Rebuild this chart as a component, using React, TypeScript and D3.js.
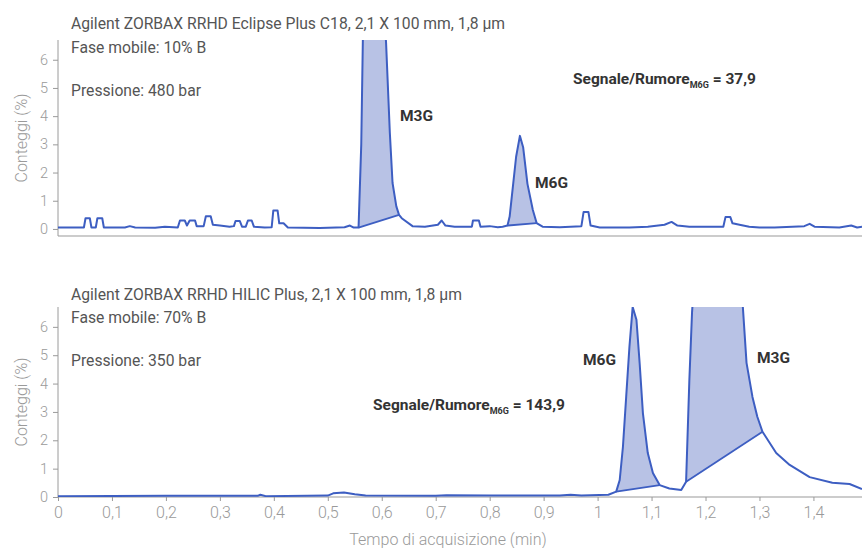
import { useEffect, useRef } from 'react';
import * as d3 from 'd3';

// Chromatogram traces: [time (min), counts (%)]
const topTrace: [number, number][] = [
  [0, 0.05], [0.031, 0.05], [0.048, 0.05], [0.051, 0.38], [0.059, 0.38], [0.062, 0.05],
  [0.07, 0.05], [0.073, 0.38], [0.082, 0.38], [0.085, 0.05], [0.124, 0.05], [0.133, 0.1],
  [0.143, 0.05], [0.18, 0.04], [0.198, 0.08], [0.222, 0.05], [0.226, 0.3], [0.235, 0.3],
  [0.239, 0.12], [0.244, 0.3], [0.254, 0.3], [0.257, 0.1], [0.27, 0.1], [0.274, 0.45],
  [0.283, 0.45], [0.287, 0.15], [0.3, 0.12], [0.318, 0.08], [0.326, 0.1], [0.329, 0.28],
  [0.337, 0.28], [0.341, 0.08], [0.348, 0.08], [0.352, 0.3], [0.359, 0.3], [0.363, 0.08],
  [0.383, 0.05], [0.396, 0.06], [0.399, 0.65], [0.407, 0.65], [0.41, 0.2], [0.418, 0.2],
  [0.426, 0.05], [0.485, 0.03], [0.531, 0.06], [0.541, 0.12], [0.548, 0.05], [0.557, 0.05],
  [0.562, 3], [0.566, 8], [0.58, 11], [0.6, 9], [0.608, 6.6], [0.615, 3.4], [0.62, 1.63],
  [0.627, 0.8], [0.632, 0.5], [0.637, 0.38], [0.657, 0.1], [0.68, 0.08], [0.704, 0.15],
  [0.711, 0.3], [0.718, 0.12], [0.735, 0.08], [0.767, 0.08], [0.769, 0.3], [0.78, 0.3],
  [0.783, 0.08], [0.8, 0.1], [0.815, 0.06], [0.824, 0.08], [0.833, 0.12], [0.837, 0.44],
  [0.843, 1.5], [0.849, 2.56], [0.856, 3.3], [0.862, 2.9], [0.87, 1.6], [0.88, 0.67],
  [0.887, 0.21], [0.898, 0.08], [0.93, 0.06], [0.97, 0.1], [0.974, 0.6], [0.983, 0.6],
  [0.987, 0.12], [1.004, 0.05], [1.059, 0.05], [1.093, 0.08], [1.124, 0.15], [1.137, 0.25],
  [1.148, 0.12], [1.17, 0.08], [1.233, 0.08], [1.237, 0.42], [1.246, 0.42], [1.25, 0.2],
  [1.263, 0.15], [1.281, 0.08], [1.3, 0.05], [1.328, 0.05], [1.383, 0.1], [1.393, 0.18],
  [1.402, 0.08], [1.448, 0.05], [1.47, 0.12], [1.481, 0.05], [1.49, 0.08],
];

const bottomTrace: [number, number][] = [
  [0, 0.03], [0.2, 0.04], [0.37, 0.04], [0.375, 0.08], [0.385, 0.03], [0.5, 0.05],
  [0.51, 0.13], [0.53, 0.16], [0.55, 0.1], [0.57, 0.05], [0.7, 0.04], [0.72, 0.06],
  [0.8, 0.05], [0.93, 0.05], [0.95, 0.08], [0.97, 0.05], [1.02, 0.08], [1.0345, 0.19],
  [1.041, 0.6], [1.047, 1.78], [1.053, 3.54], [1.059, 5.3], [1.065, 6.7], [1.072, 6.25],
  [1.078, 4.7], [1.084, 2.95], [1.093, 1.55], [1.1025, 0.85], [1.115, 0.42], [1.133, 0.3],
  [1.155, 0.25], [1.164, 0.54], [1.17, 4.1], [1.175, 6.5], [1.18, 8], [1.2, 11],
  [1.23, 12], [1.255, 9.5], [1.2685, 6.9], [1.276, 4.73], [1.287, 3.53], [1.296, 2.83],
  [1.3056, 2.3], [1.331, 1.55], [1.356, 1.13], [1.393, 0.7], [1.435, 0.5], [1.467, 0.46],
  [1.49, 0.28],
];

// Integration windows [start, end] (min)
const topPeaks: [number, number][] = [[0.557, 0.632], [0.833, 0.887]];
const bottomPeaks: [number, number][] = [[1.0345, 1.115], [1.164, 1.3056]];

const xTicks = [0, 0.1, 0.2, 0.3, 0.4, 0.5, 0.6, 0.7, 0.8, 0.9, 1, 1.1, 1.2, 1.3, 1.4];
const yTicks = [0, 1, 2, 3, 4, 5, 6];

const topTexts = ['Agilent ZORBAX RRHD Eclipse Plus C18, 2,1 X 100 mm, 1,8 µm', 'Fase mobile: 10% B', 'Pressione: 480 bar'];
const bottomTexts = ['Agilent ZORBAX RRHD HILIC Plus, 2,1 X 100 mm, 1,8 µm', 'Fase mobile: 70% B', 'Pressione: 350 bar'];

const LINE = '#3d5ec2';
const FILL = '#b8c2e5';
const AXIS = '#9a9a9a';
const FONT = 'Roboto, sans-serif';

export default function App() {
  const svgRef = useRef<SVGSVGElement>(null);

  useEffect(() => {
    if (!svgRef.current) return;
    const svg = d3.select(svgRef.current);
    svg.selectAll('*').remove();

    const x = d3.scaleLinear().domain([0, 1.49]).range([58, 862]);

    const drawPanel = (
      id: string,
      trace: [number, number][],
      peaks: [number, number][],
      y: d3.ScaleLinear<number, number>,
      texts: string[],
      textY: number[],
      showXLabels: boolean,
    ) => {
      const [yBottom, yTop] = y.range();
      const g = svg.append('g');

      g.append('clipPath').attr('id', id)
        .append('rect').attr('x', 58).attr('y', yTop).attr('width', 804).attr('height', yBottom - yTop);

      // Y axis
      const yAxis = g.append('g')
        .attr('transform', 'translate(58,0)')
        .call(d3.axisLeft(y).tickValues(yTicks).tickSize(5).tickPadding(5).tickFormat(d3.format('d')));
      yAxis.select('.domain').attr('stroke', AXIS).attr('d', `M0,${yTop}V${yBottom}`);
      yAxis.selectAll('.tick line').attr('stroke', AXIS);
      yAxis.selectAll('.tick text').attr('fill', AXIS).attr('font-size', 14.5).attr('font-family', FONT).attr('font-weight', 300);

      // X axis
      const xAxis = g.append('g')
        .attr('transform', `translate(0,${yBottom})`)
        .call(d3.axisBottom(x).tickValues(showXLabels ? xTicks : []).tickSize(showXLabels ? 4 : 0).tickPadding(6)
          .tickFormat((d) => String(+(+d).toFixed(1)).replace('.', ',')));
      xAxis.select('.domain').attr('stroke', AXIS).attr('stroke-width', 1.2).attr('d', `M58,0H862`);
      xAxis.selectAll('.tick line').attr('stroke', AXIS);
      xAxis.selectAll('.tick text').attr('fill', AXIS).attr('font-size', 16).attr('font-family', FONT).attr('font-weight', 300);

      const plot = g.append('g').attr('clip-path', `url(#${id})`);

      // Integrated peak areas
      peaks.forEach(([t0, t1]) => {
        const pts = trace.filter((d) => d[0] >= t0 && d[0] <= t1);
        const v0 = pts[0][1];
        const v1 = pts[pts.length - 1][1];
        const base = d3.scaleLinear().domain([t0, t1]).range([v0, v1]);
        const area = d3.area<[number, number]>()
          .x((d) => x(d[0]))
          .y0((d) => y(base(d[0])))
          .y1((d) => y(d[1]));
        plot.append('path').attr('d', area(pts)).attr('fill', FILL);
        plot.append('line')
          .attr('x1', x(t0)).attr('y1', y(v0)).attr('x2', x(t1)).attr('y2', y(v1))
          .attr('stroke', LINE).attr('stroke-width', 1.8);
      });

      const line = d3.line<[number, number]>().x((d) => x(d[0])).y((d) => y(d[1]));
      plot.append('path').attr('d', line(trace)).attr('fill', 'none')
        .attr('stroke', LINE).attr('stroke-width', 2).attr('stroke-linejoin', 'round');

      texts.forEach((t, i) => {
        g.append('text').attr('x', 71).attr('y', textY[i]).attr('font-size', 15.7)
          .attr('font-family', FONT).attr('fill', '#555').text(t);
      });

      g.append('text')
        .attr('transform', `translate(27,${(yTop + yBottom) / 2}) rotate(-90)`)
        .attr('text-anchor', 'middle').attr('font-size', 16).attr('font-family', FONT)
        .attr('font-weight', 300).attr('fill', AXIS).text('Conteggi (%)');
    };

    const yTop = d3.scaleLinear().domain([-0.25, 6.7]).range([236, 40]);
    const yBot = d3.scaleLinear().domain([0, 6.7]).range([497, 307]);

    drawPanel('clipTop', topTrace, topPeaks, yTop, topTexts, [29, 53, 96], false);
    drawPanel('clipBot', bottomTrace, bottomPeaks, yBot, bottomTexts, [300, 323, 366], true);

    const label = (tx: number, ty: number, txt: string, sub?: string, rest?: string) => {
      const t = svg.append('text').attr('x', tx).attr('y', ty).attr('font-size', 15.5)
        .attr('font-weight', 700).attr('font-family', FONT).attr('fill', '#333');
      t.append('tspan').text(txt);
      if (sub) {
        t.append('tspan').attr('font-size', 9).attr('dy', 4).text(sub);
        t.append('tspan').attr('dy', -4).text(rest || '');
      }
    };
    label(573, 84, 'Segnale/Rumore', 'M6G', ' = 37,9');
    label(400, 121, 'M3G');
    label(535, 188, 'M6G');
    label(373, 410, 'Segnale/Rumore', 'M6G', ' = 143,9');
    label(583, 365, 'M6G');
    label(757, 363, 'M3G');

    svg.append('text').attr('x', 448).attr('y', 545).attr('text-anchor', 'middle')
      .attr('font-size', 16).attr('font-family', FONT).attr('font-weight', 300)
      .attr('fill', AXIS).text('Tempo di acquisizione (min)');
  }, []);

  return (
    <svg ref={svgRef} width={862} height={548}
      style={{ position: 'absolute', left: 0, top: 0, background: '#fff' }} />
  );
}
